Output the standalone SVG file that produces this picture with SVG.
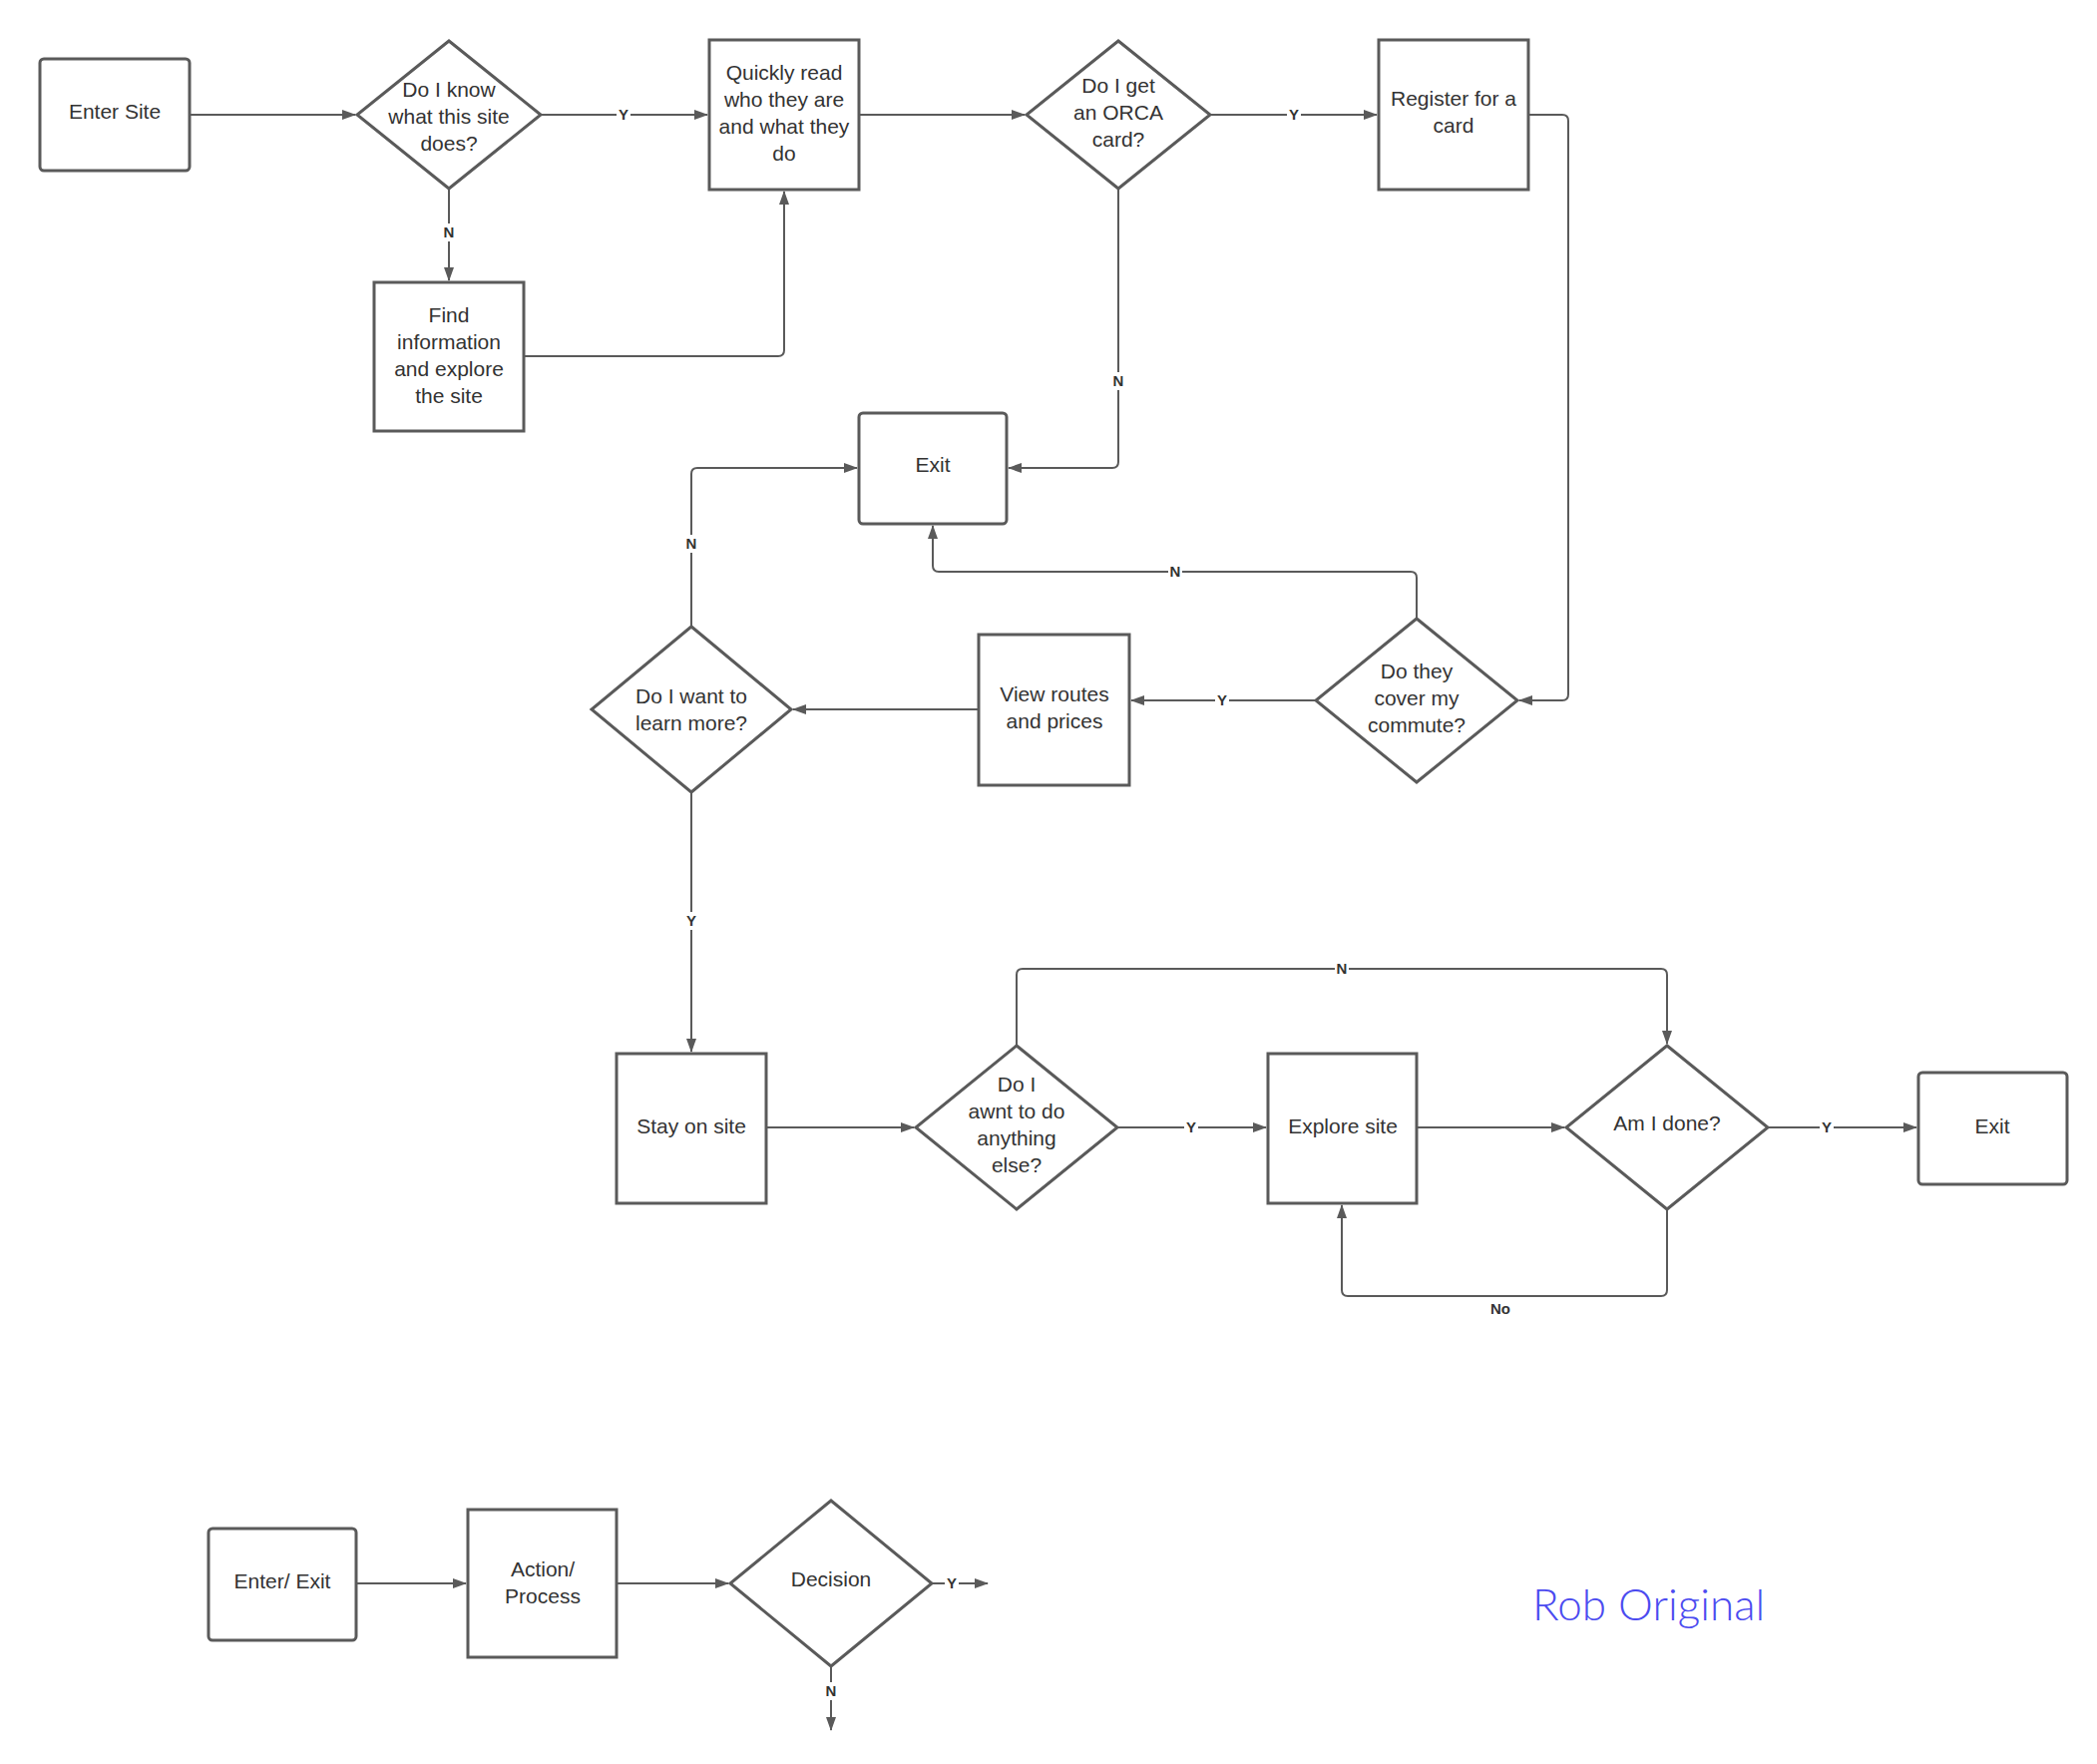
<svg xmlns="http://www.w3.org/2000/svg" width="2102" height="1768" viewBox="0 0 2102 1768">
<style>
.s{fill:#fff;stroke:#5a5a5a;stroke-width:3}
.t{font-family:"Liberation Sans",Arial,sans-serif;font-size:21px;fill:#333;text-anchor:middle}
.c{fill:none;stroke:#5a5a5a;stroke-width:2;marker-end:url(#a)}
.l{font-family:"Liberation Sans",Arial,sans-serif;font-size:15px;font-weight:bold;fill:#333;text-anchor:middle}
.bg{fill:#fff}
</style>
<defs><marker id="a" markerWidth="14" markerHeight="10" refX="13" refY="5" orient="auto" markerUnits="userSpaceOnUse"><path d="M0,0 L14,5 L0,10 Z" fill="#5a5a5a"/></marker></defs>
<rect width="2102" height="1768" fill="#fff"/>
<g id="connectors">
<path class="c" d="M190,115 H356"/>
<path class="c" d="M542,115 H709"/>
<path class="c" d="M450,189 V281"/>
<path class="c" d="M525,357 H780 Q786,357 786,351 V192"/>
<path class="c" d="M861,115 H1027"/>
<path class="c" d="M1213,115 H1380"/>
<path class="c" d="M1121,189 V463 Q1121,469 1115,469 H1011"/>
<path class="c" d="M1532,115 H1566 Q1572,115 1572,121 V696 Q1572,702 1566,702 H1523"/>
<path class="c" d="M1420,620 V579 Q1420,573 1414,573 H941 Q935,573 935,567 V527"/>
<path class="c" d="M1319,702 H1134"/>
<path class="c" d="M981,711 H795"/>
<path class="c" d="M693,628 V475 Q693,469 699,469 H859"/>
<path class="c" d="M693,794 V1054"/>
<path class="c" d="M768,1130 H916"/>
<path class="c" d="M1120,1130 H1269"/>
<path class="c" d="M1019,1048 V977 Q1019,971 1025,971 H1665 Q1671,971 1671,977 V1046"/>
<path class="c" d="M1420,1130 H1568"/>
<path class="c" d="M1772,1130 H1921"/>
<path class="c" d="M1671,1212 V1293 Q1671,1299 1665,1299 H1351 Q1345,1299 1345,1293 V1208"/>
<path class="c" d="M357,1587 H467"/>
<path class="c" d="M618,1587 H730"/>
<path class="c" d="M934,1587 H990"/>
<path class="c" d="M833,1670 V1734"/>
<g>
<rect class="bg" x="618" y="105" width="14" height="18"/><text class="l" x="625" y="120">Y</text>
<rect class="bg" x="443" y="224" width="14" height="18"/><text class="l" x="450" y="238">N</text>
<rect class="bg" x="1290" y="105" width="14" height="18"/><text class="l" x="1297" y="120">Y</text>
<rect class="bg" x="1114" y="373" width="14" height="18"/><text class="l" x="1121" y="387">N</text>
<rect class="bg" x="1171" y="564" width="14" height="18"/><text class="l" x="1178" y="578">N</text>
<rect class="bg" x="1218" y="693" width="14" height="18"/><text class="l" x="1225" y="707">Y</text>
<rect class="bg" x="686" y="536" width="14" height="18"/><text class="l" x="693" y="550">N</text>
<rect class="bg" x="686" y="914" width="14" height="18"/><text class="l" x="693" y="928">Y</text>
<rect class="bg" x="1187" y="1121" width="14" height="18"/><text class="l" x="1194" y="1135">Y</text>
<rect class="bg" x="1338" y="962" width="14" height="18"/><text class="l" x="1345" y="976">N</text>
<rect class="bg" x="1824" y="1121" width="14" height="18"/><text class="l" x="1831" y="1135">Y</text>
<text class="l" x="1504" y="1317">No</text>
<rect class="bg" x="947" y="1578" width="14" height="18"/><text class="l" x="954" y="1592">Y</text>
<rect class="bg" x="826" y="1686" width="14" height="18"/><text class="l" x="833" y="1700">N</text>
</g>
</g>
<g id="enter"><rect class="s" x="40" y="59" width="150" height="112" rx="4"/><text class="t" x="115" y="119">Enter Site</text></g>
<g id="d1"><path class="s" d="M450,41 L542,115 L450,189 L358,115 Z"/><text class="t" x="450" y="97">Do I know<tspan x="450" dy="27">what this site</tspan><tspan x="450" dy="27">does?</tspan></text></g>
<g id="quick"><rect class="s" x="711" y="40" width="150" height="150"/><text class="t" x="786" y="80">Quickly read<tspan x="786" dy="27">who they are</tspan><tspan x="786" dy="27">and what they</tspan><tspan x="786" dy="27">do</tspan></text></g>
<g id="d2"><path class="s" d="M1121,41 L1213,115 L1121,189 L1029,115 Z"/><text class="t" x="1121" y="93">Do I get<tspan x="1121" dy="27">an ORCA</tspan><tspan x="1121" dy="27">card?</tspan></text></g>
<g id="register"><rect class="s" x="1382" y="40" width="150" height="150"/><text class="t" x="1457" y="106">Register for a<tspan x="1457" dy="27">card</tspan></text></g>
<g id="find"><rect class="s" x="375" y="283" width="150" height="149"/><text class="t" x="450" y="323">Find<tspan x="450" dy="27">information</tspan><tspan x="450" dy="27">and explore</tspan><tspan x="450" dy="27">the site</tspan></text></g>
<g id="exit1"><rect class="s" x="861" y="414" width="148" height="111" rx="4"/><text class="t" x="935" y="473">Exit</text></g>
<g id="d3"><path class="s" d="M1420,620 L1521,702 L1420,784 L1319,702 Z"/><text class="t" x="1420" y="680">Do they<tspan x="1420" dy="27">cover my</tspan><tspan x="1420" dy="27">commute?</tspan></text></g>
<g id="view"><rect class="s" x="981" y="636" width="151" height="151"/><text class="t" x="1057" y="703">View routes<tspan x="1057" dy="27">and prices</tspan></text></g>
<g id="d4"><path class="s" d="M693,628 L793,711 L693,794 L593,711 Z"/><text class="t" x="693" y="705">Do I want to<tspan x="693" dy="27">learn more?</tspan></text></g>
<g id="stay"><rect class="s" x="618" y="1056" width="150" height="150"/><text class="t" x="693" y="1136">Stay on site</text></g>
<g id="d5"><path class="s" d="M1019,1048 L1120,1130 L1019,1212 L918,1130 Z"/><text class="t" x="1019" y="1094">Do I<tspan x="1019" dy="27">awnt to do</tspan><tspan x="1019" dy="27">anything</tspan><tspan x="1019" dy="27">else?</tspan></text></g>
<g id="explore"><rect class="s" x="1271" y="1056" width="149" height="150"/><text class="t" x="1346" y="1136">Explore site</text></g>
<g id="d6"><path class="s" d="M1671,1048 L1772,1130 L1671,1212 L1570,1130 Z"/><text class="t" x="1671" y="1133">Am I done?</text></g>
<g id="exit2"><rect class="s" x="1923" y="1075" width="149" height="112" rx="4"/><text class="t" x="1997" y="1136">Exit</text></g>
<g id="leg-enter"><rect class="s" x="209" y="1532" width="148" height="112" rx="4"/><text class="t" x="283" y="1592">Enter/ Exit</text></g>
<g id="leg-action"><rect class="s" x="469" y="1513" width="149" height="148"/><text class="t" x="544" y="1580">Action/<tspan x="544" dy="27">Process</tspan></text></g>
<g id="leg-decision"><path class="s" d="M833,1504 L934,1587 L833,1670 L732,1587 Z"/><text class="t" x="833" y="1590">Decision</text></g>
<g id="credit"><text x="1536" y="1624" style="font-family:Lato,'Open Sans',sans-serif;font-weight:300;font-size:44px;fill:#4b4bf0">Rob Original</text></g>
</svg>
